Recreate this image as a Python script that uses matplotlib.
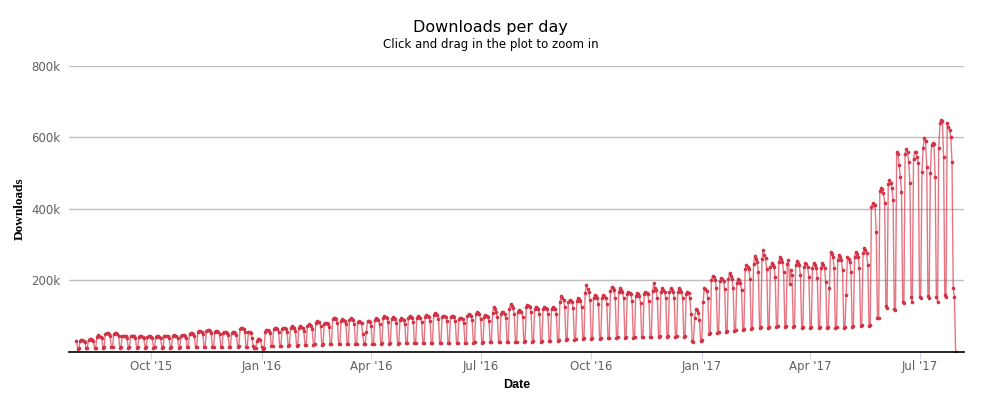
import pandas as pd
import matplotlib.pyplot as plt
import matplotlib.dates as mdates

# downloads per day, in thousands
# first day is Fri 2015-07-31, then weeks run Sat..Fri
first_day = [31]
weeks = [
    [9, 10, 32, 34, 33, 32, 29],
    [10, 11, 34, 36, 35, 34, 30],
    [11, 12, 42, 48, 45, 43, 38],
    [12, 13, 50, 53, 52, 50, 44],
    [13, 14, 50, 53, 52, 50, 45],
    [12, 13, 44, 46, 45, 44, 39],
    [12, 13, 44, 46, 45, 44, 39],
    [12, 13, 43, 45, 44, 43, 38],
    [12, 13, 43, 45, 44, 42, 38],
    [12, 13, 43, 45, 44, 43, 38],
    [12, 13, 44, 46, 45, 44, 39],
    [12, 13, 45, 47, 46, 45, 40],
    [12, 13, 46, 48, 47, 46, 40],
    [13, 14, 50, 53, 52, 50, 45],
    [14, 15, 57, 60, 59, 57, 50],
    [14, 15, 59, 62, 61, 59, 52],
    [14, 15, 57, 60, 59, 57, 50],
    [14, 15, 54, 57, 56, 54, 48],
    [14, 15, 54, 57, 56, 54, 48],
    [15, 16, 64, 68, 66, 64, 57],
    [14, 15, 55, 57, 52, 38, 16],
    [10, 11, 30, 36, 35, 33, 14],
    [9, 11, 55, 62, 61, 59, 52],
    [16, 17, 64, 68, 67, 65, 57],
    [16, 17, 65, 68, 66, 65, 57],
    [18, 19, 68, 72, 71, 68, 60],
    [18, 19, 68, 72, 70, 68, 60],
    [19, 20, 73, 77, 75, 73, 65],
    [20, 21, 82, 87, 85, 83, 73],
    [20, 21, 78, 82, 80, 78, 69],
    [21, 22, 91, 96, 94, 91, 81],
    [21, 22, 87, 92, 90, 87, 77],
    [22, 23, 89, 94, 92, 89, 79],
    [22, 23, 83, 87, 85, 80, 50],
    [21, 22, 55, 87, 86, 83, 73],
    [22, 23, 89, 94, 92, 89, 79],
    [23, 24, 96, 101, 99, 96, 85],
    [23, 24, 93, 98, 96, 93, 82],
    [23, 24, 89, 94, 92, 89, 79],
    [24, 25, 96, 101, 99, 96, 85],
    [24, 25, 96, 101, 99, 96, 85],
    [24, 25, 98, 103, 101, 98, 87],
    [25, 26, 104, 109, 107, 104, 92],
    [25, 26, 97, 102, 100, 97, 86],
    [25, 26, 97, 102, 100, 97, 86],
    [25, 26, 91, 96, 94, 91, 81],
    [25, 26, 101, 106, 104, 101, 89],
    [26, 27, 105, 111, 109, 105, 93],
    [26, 27, 99, 104, 102, 99, 87],
    [27, 28, 110, 127, 120, 112, 98],
    [27, 28, 107, 113, 111, 107, 95],
    [28, 29, 120, 134, 128, 122, 105],
    [28, 29, 112, 118, 116, 112, 99],
    [29, 30, 125, 132, 129, 125, 111],
    [29, 30, 121, 127, 124, 121, 107],
    [29, 30, 121, 127, 124, 121, 107],
    [30, 31, 120, 126, 123, 120, 106],
    [31, 33, 140, 157, 150, 145, 125],
    [33, 35, 139, 146, 143, 139, 123],
    [34, 36, 143, 150, 147, 143, 126],
    [36, 38, 165, 188, 175, 168, 145],
    [36, 38, 152, 160, 157, 152, 134],
    [37, 39, 152, 160, 157, 152, 134],
    [38, 40, 170, 183, 178, 172, 150],
    [40, 42, 169, 178, 174, 169, 150],
    [40, 42, 161, 169, 166, 161, 142],
    [40, 42, 156, 164, 161, 156, 138],
    [41, 43, 161, 169, 166, 161, 142],
    [41, 43, 170, 192, 178, 172, 150],
    [42, 44, 169, 178, 174, 169, 150],
    [42, 44, 169, 178, 174, 169, 150],
    [42, 44, 169, 178, 174, 169, 150],
    [42, 44, 161, 169, 165, 150, 107],
    [30, 28, 95, 120, 118, 110, 90],
    [32, 33, 140, 178, 175, 170, 150],
    [50, 53, 200, 213, 209, 202, 180],
    [53, 56, 198, 208, 204, 198, 175],
    [55, 58, 205, 221, 212, 205, 180],
    [58, 61, 194, 204, 200, 194, 172],
    [62, 65, 232, 244, 239, 232, 205],
    [65, 68, 245, 269, 260, 252, 223],
    [67, 70, 260, 284, 270, 262, 231],
    [68, 71, 237, 249, 244, 237, 209],
    [70, 73, 253, 266, 261, 253, 223],
    [70, 73, 245, 258, 190, 230, 215],
    [70, 73, 242, 255, 250, 242, 214],
    [68, 71, 238, 250, 245, 238, 210],
    [68, 71, 236, 248, 243, 236, 208],
    [68, 71, 236, 248, 243, 236, 196],
    [66, 69, 180, 281, 275, 267, 236],
    [68, 71, 258, 272, 267, 258, 228],
    [68, 71, 160, 266, 261, 253, 223],
    [70, 73, 267, 281, 275, 267, 236],
    [72, 75, 276, 290, 284, 276, 244],
    [73, 76, 405, 416, 412, 410, 336],
    [96, 94, 450, 458, 455, 445, 417],
    [128, 123, 470, 482, 473, 460, 426],
    [120, 118, 560, 555, 524, 490, 448],
    [141, 138, 555, 568, 560, 532, 473],
    [155, 141, 540, 560, 558, 545, 529],
    [154, 151, 504, 571, 599, 590, 518],
    [157, 151, 500, 580, 585, 583, 490],
    [154, 141, 570, 640, 650, 645, 546],
    [160, 154, 641, 630, 622, 602, 532],
]
last_days = [179, 154, 0]

tick_dates = ["2015-10-01", "2016-01-01", "2016-04-01", "2016-07-01",
              "2016-10-01", "2017-01-01", "2017-04-01", "2017-07-01"]
tick_labels = ["Oct '15", "Jan '16", "Apr '16", "Jul '16",
               "Oct '16", "Jan '17", "Apr '17", "Jul '17"]
y_ticks = [200000, 400000, 600000, 800000]
y_labels = ["200k", "400k", "600k", "800k"]

values = first_day + [v for w in weeks for v in w] + last_days
dates = pd.date_range("2015-07-31", periods=len(values), freq="D")
downloads = pd.Series(values, index=dates) * 1000

fig = plt.figure(figsize=(9.81, 3.97), dpi=100)
ax = fig.add_axes([0.0703, 0.1134, 0.9124, 0.7204])

# light line, darker points (like the original)
ax.plot(downloads.index, downloads.values, color="#dc3a4c", lw=1, alpha=0.7)
ax.plot(downloads.index, downloads.values, ls="none", color="#d13346",
        marker="o", ms=2.6, mew=0)

ax.set_ylim(0, 800000)
ax.set_xlim(pd.Timestamp("2015-07-24 18:00"), pd.Timestamp("2017-08-07"))

ax.set_yticks(y_ticks)
ax.set_yticklabels(y_labels)
ax.xaxis.set_major_locator(plt.FixedLocator(mdates.date2num(pd.to_datetime(tick_dates))))
ax.set_xticklabels(tick_labels)

ax.grid(axis="y", color="#c0c0c0", lw=1)
ax.set_axisbelow(True)
for s in ["top", "right", "left"]:
    ax.spines[s].set_visible(False)
ax.spines["bottom"].set_color("#000000")
ax.spines["bottom"].set_linewidth(1.2)

ax.tick_params(axis="y", length=0, pad=6, labelsize=8.5, labelcolor="#606060")
ax.tick_params(axis="x", length=5, color="#ccd6eb", pad=1, labelsize=8.5, labelcolor="#606060")

ax.set_xlabel("Date", fontsize=9, fontweight="bold", family="Liberation Sans", labelpad=4)
ax.set_ylabel("Downloads", fontsize=9.5, fontweight="bold", family="Liberation Serif", labelpad=4)

fig.text(0.5, 0.93, "Downloads per day", ha="center", va="center", fontsize=11.5, color="#000000")
fig.text(0.5, 0.888, "Click and drag in the plot to zoom in", ha="center", va="center",
         fontsize=8.5, color="#000000")

fig.savefig("out.png", dpi=100)
